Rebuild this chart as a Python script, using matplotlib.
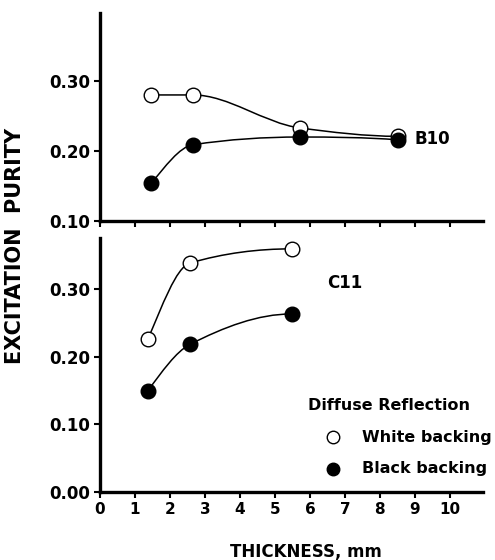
import numpy as np
import matplotlib
matplotlib.use("Agg")
from matplotlib import pyplot as plt
from matplotlib.path import Path
from matplotlib.patches import PathPatch

# thickness (mm) and excitation purity
b10_x = [1.46, 2.66, 5.71, 8.52]
b10_white = [0.280, 0.280, 0.233, 0.221]
b10_black = [0.154, 0.209, 0.220, 0.216]

c11_x = [1.37, 2.57, 5.49]
c11_white = [0.226, 0.338, 0.359]
c11_black = [0.150, 0.218, 0.263]

xticks = list(range(0, 11))
top_yticks = [0.10, 0.20, 0.30]
bot_yticks = [0.00, 0.10, 0.20, 0.30]

plt.rcParams['font.family'] = ['DejaVu Sans']
plt.rcParams['font.weight'] = 'bold'


def slopes(x, y):
    # monotone (pchip style) slopes so flat parts stay flat
    h = np.diff(x)
    d = np.diff(y) / h
    n = len(x)
    m = np.zeros(n)
    for i in range(1, n - 1):
        if d[i - 1] * d[i] <= 0:
            m[i] = 0
        else:
            w1 = 2 * h[i] + h[i - 1]
            w2 = h[i] + 2 * h[i - 1]
            m[i] = (w1 + w2) / (w1 / d[i - 1] + w2 / d[i])
    m[0] = ((2 * h[0] + h[1]) * d[0] - h[0] * d[1]) / (h[0] + h[1]) if n > 2 else d[0]
    if m[0] * d[0] <= 0:
        m[0] = 0
    elif d[0] * d[1] <= 0 and abs(m[0]) > abs(3 * d[0]):
        m[0] = 3 * d[0]
    m[-1] = ((2 * h[-1] + h[-2]) * d[-1] - h[-1] * d[-2]) / (h[-1] + h[-2]) if n > 2 else d[-1]
    if m[-1] * d[-1] <= 0:
        m[-1] = 0
    elif d[-1] * d[-2] <= 0 and abs(m[-1]) > abs(3 * d[-1]):
        m[-1] = 3 * d[-1]
    return m


def smooth(ax, xs, ys):
    x = np.array(xs, float)
    y = np.array(ys, float)
    m = slopes(x, y)
    verts = [(x[0], y[0])]
    codes = [Path.MOVETO]
    for i in range(len(x) - 1):
        h = x[i + 1] - x[i]
        verts += [(x[i] + h / 3, y[i] + m[i] * h / 3),
                  (x[i + 1] - h / 3, y[i + 1] - m[i + 1] * h / 3),
                  (x[i + 1], y[i + 1])]
        codes += [Path.CURVE4] * 3
    patch = PathPatch(Path(verts, codes), facecolor="none", edgecolor="black",
                      linewidth=1.1, zorder=2)
    ax.add_patch(patch)


def style(ax, yticks, ylim, labels):
    ax.set_xlim(0, 10.95)
    ax.set_ylim(*ylim)
    ax.spines["top"].set_visible(False)
    ax.spines["right"].set_visible(False)
    ax.spines["left"].set_linewidth(2.4)
    ax.spines["bottom"].set_linewidth(2.4)
    ax.set_xticks(xticks)
    ax.set_yticks(yticks)
    ax.set_yticklabels(["%.2f" % v for v in yticks])
    ax.tick_params(axis="both", direction="out", length=4, width=1.5,
                   labelsize=12, pad=3)
    if not labels:
        ax.set_xticklabels([])
    else:
        ax.set_xticklabels([str(v) for v in xticks], fontsize=11)


fig = plt.figure(figsize=(4.95, 5.6), dpi=100)
ax1 = fig.add_axes([0.202, 0.605, 0.774, 0.372])
ax2 = fig.add_axes([0.202, 0.121, 0.774, 0.454])

smooth(ax1, b10_x, b10_white)
smooth(ax1, b10_x, b10_black)
ax1.plot(b10_x, b10_white, "o", ms=10.5, mfc="white", mec="black", mew=1, zorder=3)
ax1.plot(b10_x, b10_black, "o", ms=10.5, mfc="black", mec="black", zorder=4)
ax1.text(9.0, 0.217, "B10", fontsize=12, va="center", ha="left")
style(ax1, top_yticks, (0.10, 0.397), False)

smooth(ax2, c11_x, c11_white)
smooth(ax2, c11_x, c11_black)
ax2.plot(c11_x, c11_white, "o", ms=10.5, mfc="white", mec="black", mew=1, zorder=3)
ax2.plot(c11_x, c11_black, "o", ms=10.5, mfc="black", mec="black", zorder=4)
ax2.text(6.5, 0.309, "C11", fontsize=12, va="center", ha="left")

# legend
ax2.text(5.95, 0.128, "Diffuse Reflection", fontsize=11.5, va="center", ha="left")
ax2.plot([6.66], [0.081], "o", ms=9, mfc="white", mec="black", mew=1)
ax2.plot([6.66], [0.035], "o", ms=9, mfc="black", mec="black")
ax2.text(7.49, 0.081, "White backing", fontsize=11.5, va="center", ha="left")
ax2.text(7.49, 0.035, "Black backing", fontsize=11.5, va="center", ha="left")
style(ax2, bot_yticks, (0.0, 0.375), True)

fig.text(0.03, 0.56, "EXCITATION  PURITY", rotation=90, fontsize=15,
         ha="center", va="center")
fig.text(0.618, 0.015, "THICKNESS, mm", fontsize=12, ha="center", va="center")

fig.savefig("out.png", dpi=100)
